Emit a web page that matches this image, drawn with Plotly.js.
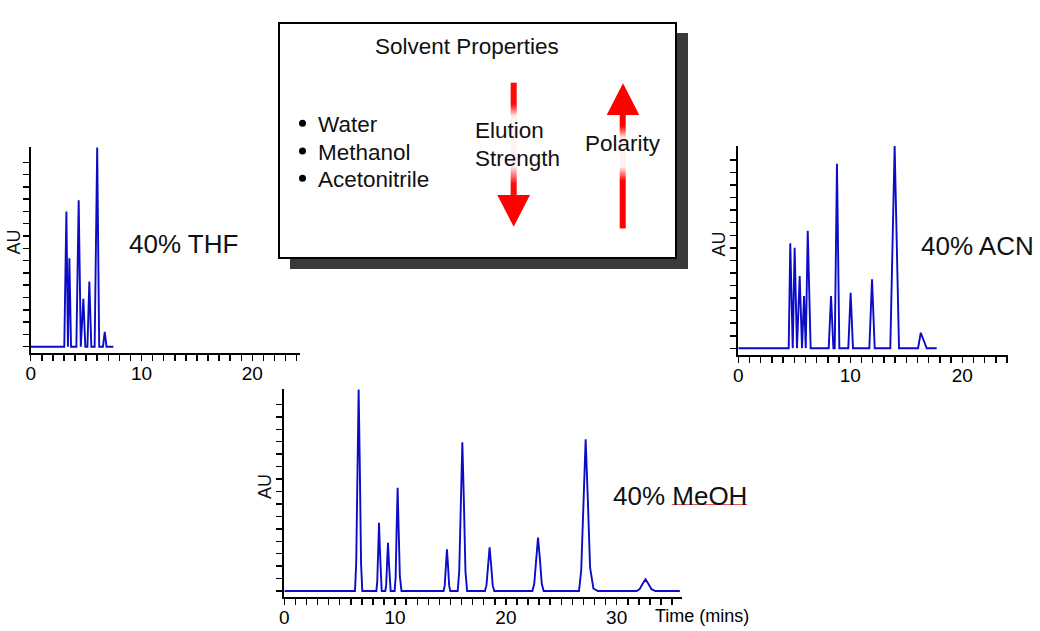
<!DOCTYPE html>
<html><head><meta charset="utf-8">
<script src="https://cdn.plot.ly/plotly-3.0.1.min.js"></script>
<style>
html, body { margin: 0; padding: 0; background: #fff; }
#chart { width: 1040px; height: 631px; }
</style>
</head><body>
<div id="chart"></div>
<script>
const W = 1040, H = 631;
const FONT = 'Arial, "Liberation Sans", sans-serif';

// 40% THF chromatogram (time in mins, absorbance in y-tick units)
const thfTime = [0, 3.03, 3.22, 3.36, 3.49, 3.64, 4.12, 4.33, 4.52, 4.75, 4.93, 5.12, 5.29, 5.47, 5.77, 6.0, 6.18, 6.52, 6.68, 6.84, 7.46];
const thfAU   = [0, 0, 11.0, 0, 7.2, 0, 0, 11.9, 0, 3.9, 0, 0, 5.3, 0, 0, 16.2, 0, 0, 1.2, 0, 0];

// 40% ACN chromatogram
const acnTime = [0, 4.5, 4.64, 4.86, 5.03, 5.24, 5.48, 5.69, 5.87, 6.02, 6.2, 6.46,
                 8.07, 8.28, 8.49, 8.61, 8.81, 9.02, 9.82, 10.03, 10.24,
                 11.7, 11.94, 12.18, 13.57, 13.96, 14.35, 16.05, 16.29, 16.82, 17.71];
const acnAU   = [0, 0, 8.36, 0, 8.0, 0, 5.76, 0, 4.16, 0, 9.36, 0,
                 0, 4.16, 0, 0, 14.7, 0, 0, 4.43, 0,
                 0, 5.49, 0, 0, 16.1, 0, 0, 1.24, 0, 0];

// 40% MeOH chromatogram
const meohTime = [0,
  6.38, 6.49, 6.60, 6.71, 6.82, 6.93, 7.04,
  8.31, 8.39, 8.47, 8.55, 8.63, 8.71, 8.79,
  9.12, 9.20, 9.28, 9.36, 9.44, 9.52, 9.60,
  9.96, 10.05, 10.14, 10.23, 10.32, 10.43, 10.58,
  14.38, 14.48, 14.58, 14.68, 14.78, 14.88, 14.98,
  15.65, 15.79, 15.93, 16.07, 16.21, 16.35, 16.50,
  18.11, 18.25, 18.39, 18.53, 18.67, 18.81, 18.95,
  22.39, 22.56, 22.73, 22.90, 23.07, 23.24, 23.41,
  26.60, 26.80, 27.00, 27.20, 27.40, 27.60, 27.90, 28.30,
  31.80, 32.06, 32.33, 32.60, 32.87, 33.14, 33.50,
  35.7];
const meohAU = [0,
  0, 2.2, 9.7, 16.2, 9.7, 2.2, 0,
  0, 0.75, 3.3, 5.49, 3.3, 0.75, 0,
  0, 0.53, 2.33, 3.88, 2.33, 0.53, 0,
  0, 1.1, 5.0, 8.3, 5.0, 1.2, 0,
  0, 0.45, 2.0, 3.35, 2.0, 0.45, 0,
  0, 1.6, 7.2, 11.95, 7.2, 1.6, 0,
  0, 0.47, 2.1, 3.51, 2.1, 0.47, 0,
  0, 0.58, 2.6, 4.29, 2.6, 0.58, 0,
  0, 1.65, 7.3, 12.19, 7.3, 1.9, 0.2, 0,
  0, 0.13, 0.56, 0.94, 0.56, 0.15, 0,
  0];

const auTicks = [0, 1, 2, 3, 4, 5, 6, 7, 8, 9, 10, 11, 12, 13, 14, 15];
const sampleLabels = ['40% THF', '40% ACN', '40% MeOH'];
const solvents = ['Water', 'Methanol', 'Acetonitrile'];

// pixel -> paper helpers
const px = x => x / W;
const py = y => 1 - y / H;

function xAxis(x0, x1, range, anchor) {
  return {
    domain: [px(x0), px(x1)], range: range, anchor: anchor,
    showline: true, linecolor: '#000', linewidth: 2,
    ticks: 'outside', ticklen: 6, tickwidth: 1.5, tickcolor: '#000',
    tick0: 0, dtick: 10, ticklabelstandoff: -4,
    tickfont: { family: FONT, size: 19, color: '#000' },
    minor: { dtick: 1, ticks: 'outside', ticklen: 6, tickwidth: 1.5, tickcolor: '#000', showgrid: false },
    showgrid: false, zeroline: false, fixedrange: true
  };
}
function yAxis(yTop, yBottom, range, anchor) {
  return {
    domain: [py(yBottom), py(yTop)], range: range, anchor: anchor,
    showline: true, linecolor: '#000', linewidth: 2,
    ticks: 'outside', ticklen: 6, tickwidth: 1.5, tickcolor: '#000',
    tickmode: 'array', tickvals: auTicks, showticklabels: false,
    showgrid: false, zeroline: false, fixedrange: true
  };
}

const lineStyle = { color: '#0b0bc8', width: 1.9 };
const traces = [
  { x: thfTime, y: thfAU, xaxis: 'x', yaxis: 'y', mode: 'lines', line: lineStyle, hoverinfo: 'skip', showlegend: false },
  { x: acnTime, y: acnAU, xaxis: 'x2', yaxis: 'y2', mode: 'lines', line: lineStyle, hoverinfo: 'skip', showlegend: false },
  { x: meohTime, y: meohAU, xaxis: 'x3', yaxis: 'y3', mode: 'lines', line: lineStyle, hoverinfo: 'skip', showlegend: false }
];

const shapes = [];
// info box with drop shadow
shapes.push({ type: 'rect', xref: 'paper', yref: 'paper', x0: px(290), x1: px(688), y0: py(33), y1: py(269),
  fillcolor: '#3a3a3a', line: { width: 0 } });
shapes.push({ type: 'rect', xref: 'paper', yref: 'paper', x0: px(279), x1: px(676), y0: py(23), y1: py(258),
  fillcolor: '#fff', line: { color: '#000', width: 2 } });

// bullets
[123.3, 151, 178.3].forEach(y => {
  shapes.push({ type: 'circle', xref: 'paper', yref: 'paper', x0: px(299), x1: px(306), y0: py(y - 3.5), y1: py(y + 3.5),
    fillcolor: '#000', line: { width: 0 } });
});

// arrow shafts fading out behind the labels
function shaft(xc, yStart, yEnd, fadeIn0, fadeIn1, fadeOut0, fadeOut1) {
  for (let y = yStart; y < yEnd; y += 2) {
    let a = 1;
    if (y > fadeIn0 && y < fadeIn1) a = 1 - 0.95 * (y - fadeIn0) / (fadeIn1 - fadeIn0);
    else if (y >= fadeIn1 && y <= fadeOut0) a = 0.05;
    else if (y > fadeOut0 && y < fadeOut1) a = 0.05 + 0.95 * (y - fadeOut0) / (fadeOut1 - fadeOut0);
    shapes.push({ type: 'rect', xref: 'paper', yref: 'paper', x0: px(xc - 3), x1: px(xc + 3),
      y0: py(y), y1: py(Math.min(y + 2.2, yEnd)), fillcolor: 'rgba(255,0,0,' + a.toFixed(3) + ')', line: { width: 0 } });
  }
}
shaft(513.7, 82.7, 196, 103, 115, 165, 183);
shaft(622.7, 114, 228.3, 125, 137, 166, 180);

function tri(pts) {
  return { type: 'path', xref: 'paper', yref: 'paper', fillcolor: '#ff0000', line: { width: 0 },
    path: 'M' + pts.map(p => px(p[0]) + ',' + py(p[1])).join('L') + 'Z' };
}
shapes.push(tri([[497.3, 195], [530, 195], [513.7, 226.7]]));
shapes.push(tri([[606.7, 115], [639.3, 115], [623, 83.3]]));

// spell-check underline under MeOH
shapes.push({ type: 'line', xref: 'paper', yref: 'paper', x0: px(671.7), x1: px(747.3), y0: py(504.5), y1: py(504.5),
  line: { color: '#e05a5a', width: 1 } });

function note(text, x, y, size, opts) {
  return Object.assign({ text: text, xref: 'paper', yref: 'paper', x: px(x), y: py(y), showarrow: false,
    xanchor: 'center', yanchor: 'middle', font: { family: FONT, size: size, color: '#111' } }, opts || {});
}

const annotations = [
  note(sampleLabels[0], 183.8, 244, 26),
  note(sampleLabels[1], 977, 245.5, 26),
  note(sampleLabels[2], 679.7, 496.5, 26),
  note('AU', 13.5, 242, 18, { textangle: -90 }),
  note('AU', 718.5, 244, 18, { textangle: -90 }),
  note('AU', 265, 487, 18, { textangle: -90 }),
  note('Time (mins)', 653, 616, 18, { xanchor: 'left', font: { family: FONT, size: 18, color: '#000' } }),
  note('Solvent Properties', 466.7, 46, 22.5),
  note(solvents[0], 316, 124.5, 22.5, { xanchor: 'left' }),
  note(solvents[1], 316, 152, 22.5, { xanchor: 'left' }),
  note(solvents[2], 316, 179.5, 22.5, { xanchor: 'left' }),
  note('Elution', 473, 130.5, 22.5, { xanchor: 'left' }),
  note('Strength', 473, 158, 22.5, { xanchor: 'left' }),
  note('Polarity', 622.5, 143, 22.5)
];

const layout = {
  width: W, height: H, autosize: false,
  margin: { l: 0, r: 0, t: 0, b: 0, pad: 0 },
  paper_bgcolor: '#fff', plot_bgcolor: 'rgba(0,0,0,0)',
  showlegend: false,
  xaxis:  xAxis(30.7, 300, [0, 24.3], 'y'),
  yaxis:  yAxis(147, 353.3, [-0.537, 16.24], 'x'),
  xaxis2: xAxis(738.3, 1008, [0, 24.08], 'y2'),
  yaxis2: yAxis(146, 355, [-0.533, 16.11], 'x2'),
  xaxis3: xAxis(284.3, 681.7, [0, 35.87], 'y3'),
  yaxis3: yAxis(389, 597.3, [-0.506, 16.24], 'x3'),
  shapes: shapes,
  annotations: annotations
};

Plotly.newPlot('chart', traces, layout, { displayModeBar: false, staticPlot: true });
</script>
</body></html>
